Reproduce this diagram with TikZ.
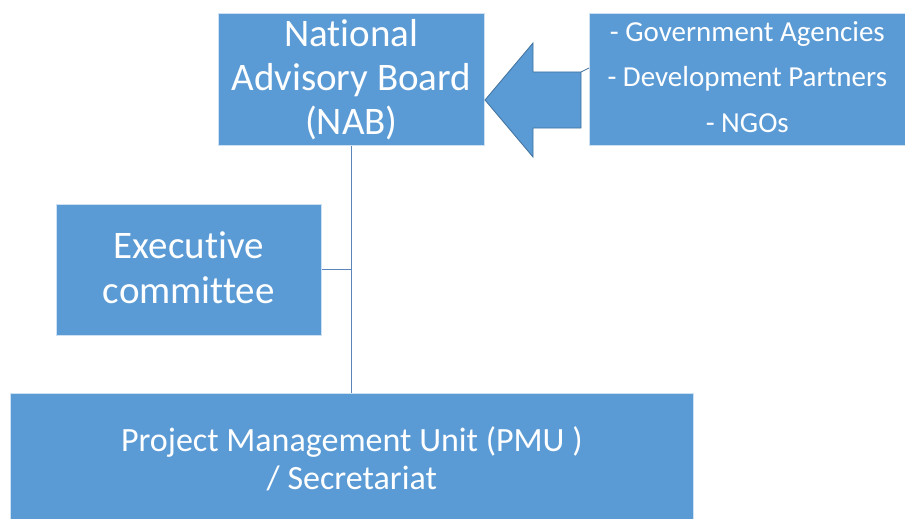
\documentclass[tikz,border=0pt]{standalone}
\usepackage{fontspec}
\setmainfont[Ligatures=NoCommon]{Carlito}
\definecolor{boxblue}{HTML}{5B9BD5}
\definecolor{edgeblue}{HTML}{41719C}
\definecolor{linkblue}{HTML}{5A86BC}
\begin{document}
\begin{tikzpicture}[x=1pt,y=-1pt,
  box/.style={fill=boxblue,draw=white!70!boxblue,line width=0.6pt,text=white,align=center,inner sep=0pt,anchor=north west},
  boxtext/.style={text=white,align=center,inner sep=0pt},
  link/.style={draw=linkblue,line width=1.2pt}]
\useasboundingbox (0,0) rectangle (905,519);
\node[box,minimum width=266pt,minimum height=132pt,font=\fontsize{39}{44}\selectfont] (nab) at (218,13) {National\\Advisory Board\\(NAB)};
\node[box,minimum width=316pt,minimum height=132pt] (part) at (589,13) {};
\node[boxtext,font=\fontsize{29}{45.5}\selectfont] (parttext) at ([yshift=2.5pt]part.center) {- Government Agencies\\- Development Partners\\- NGOs};
\node[box,minimum width=265pt,minimum height=131pt] (exec) at (56,204) {};
\node[boxtext,font=\fontsize{39}{45}\selectfont] (exectext) at ([yshift=2pt]exec.center) {Executive\\committee};
\node[box,minimum width=683pt,minimum height=130pt,font=\fontsize{34}{38}\selectfont] (pmu) at (10,393) {Project Management Unit (PMU )\\/ Secretariat};
\draw[fill=boxblue,draw=edgeblue,line width=0.8pt] (485,100) -- (533,43) -- (533,72) -- (581,72) -- (581,128) -- (533,128) -- (533,157) -- cycle;
\coordinate (tail) at (581,72);
\draw[edgeblue,line width=0.8pt] (tail) -- (part.west |- 0,68);
\draw[link] (nab.south) -- (nab.south |- pmu.north);
\draw[link] (exec.east) -- (exec.east -| nab.south);
\end{tikzpicture}
\end{document}
